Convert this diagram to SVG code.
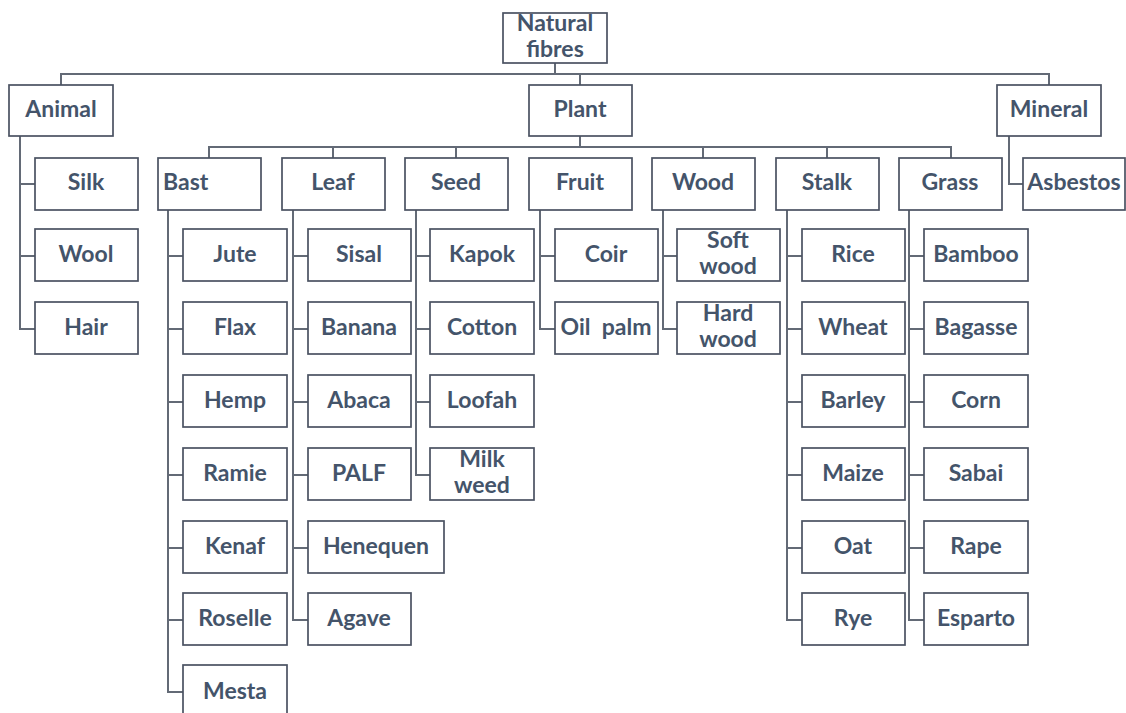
<svg xmlns="http://www.w3.org/2000/svg" width="1126" height="713" viewBox="0 0 1126 713">
<style>
.b{fill:#fff;stroke:#4a5262;stroke-width:1.7}
.t{font-family:Lato,"Open Sans",sans-serif;font-weight:bold;font-size:23px;fill:#44546a;text-anchor:middle}
.c{fill:none;stroke:#636a76;stroke-width:2}
</style>
<rect width="1126" height="713" fill="#fff"/>
<g id="connectors" class="c">
<path d="M555 63V74M61 85V74H1049V85M580 74V85"/>
<path d="M20 136V329H35M20 184H35M20 256H35"/>
<path d="M580 136V147M209 158V147H951V158M333 147V158M456 147V158M703 147V158M827 147V158"/>
<path d="M1009 136V184H1023"/>
<path d="M168 210V692H183M168 256H183M168 329H183M168 402H183M168 475H183M168 548H183M168 620H183"/>
<path d="M293 210V620H308M293 256H308M293 329H308M293 402H308M293 475H308M293 548H308"/>
<path d="M416 210V475H430M416 256H430M416 329H430M416 402H430"/>
<path d="M540 210V329H555M540 256H555"/>
<path d="M663 210V329H677M663 256H677"/>
<path d="M787 210V620H802M787 256H802M787 329H802M787 402H802M787 475H802M787 548H802"/>
<path d="M909 210V620H924M909 256H924M909 329H924M909 402H924M909 475H924M909 548H924"/>
</g>
<g id="n-root"><rect class="b" x="503" y="13" width="104" height="50"/><text class="t" x="555" y="31">Natural</text><text class="t" x="555" y="57">fibres</text></g>
<g id="n-animal"><rect class="b" x="9" y="85" width="104" height="51"/><text class="t" x="61" y="117">Animal</text></g>
<g id="n-plant"><rect class="b" x="529" y="85" width="103" height="51"/><text class="t" x="580" y="117">Plant</text></g>
<g id="n-mineral"><rect class="b" x="997" y="85" width="104" height="51"/><text class="t" x="1049" y="117">Mineral</text></g>
<g id="n-silk"><rect class="b" x="35" y="158" width="103" height="52"/><text class="t" x="86" y="190">Silk</text></g>
<g id="n-wool"><rect class="b" x="35" y="229" width="103" height="52"/><text class="t" x="86" y="262">Wool</text></g>
<g id="n-hair"><rect class="b" x="35" y="302" width="103" height="52"/><text class="t" x="86" y="335">Hair</text></g>
<g id="n-asbestos"><rect class="b" x="1023" y="158" width="102" height="52"/><text class="t" x="1074" y="190">Asbestos</text></g>
<g id="n-bast"><rect class="b" x="158" y="158" width="103" height="52"/><text class="t" x="163" y="190" style="text-anchor:start">Bast</text></g>
<g id="n-leaf"><rect class="b" x="282" y="158" width="103" height="52"/><text class="t" x="333" y="190">Leaf</text></g>
<g id="n-seed"><rect class="b" x="405" y="158" width="103" height="52"/><text class="t" x="456" y="190">Seed</text></g>
<g id="n-fruit"><rect class="b" x="529" y="158" width="103" height="52"/><text class="t" x="580" y="190">Fruit</text></g>
<g id="n-wood"><rect class="b" x="652" y="158" width="103" height="52"/><text class="t" x="703" y="190">Wood</text></g>
<g id="n-stalk"><rect class="b" x="776" y="158" width="103" height="52"/><text class="t" x="827" y="190">Stalk</text></g>
<g id="n-grass"><rect class="b" x="899" y="158" width="103" height="52"/><text class="t" x="950" y="190">Grass</text></g>
<g id="n-jute"><rect class="b" x="183" y="229" width="104" height="52"/><text class="t" x="235" y="262">Jute</text></g>
<g id="n-flax"><rect class="b" x="183" y="302" width="104" height="52"/><text class="t" x="235" y="335">Flax</text></g>
<g id="n-hemp"><rect class="b" x="183" y="375" width="104" height="52"/><text class="t" x="235" y="408">Hemp</text></g>
<g id="n-ramie"><rect class="b" x="183" y="448" width="104" height="52"/><text class="t" x="235" y="481">Ramie</text></g>
<g id="n-kenaf"><rect class="b" x="183" y="521" width="104" height="52"/><text class="t" x="235" y="554">Kenaf</text></g>
<g id="n-roselle"><rect class="b" x="183" y="593" width="104" height="52"/><text class="t" x="235" y="626">Roselle</text></g>
<g id="n-mesta"><rect class="b" x="183" y="665" width="104" height="60"/><text class="t" x="235" y="699">Mesta</text></g>
<g id="n-sisal"><rect class="b" x="308" y="229" width="103" height="52"/><text class="t" x="359" y="262">Sisal</text></g>
<g id="n-banana"><rect class="b" x="308" y="302" width="103" height="52"/><text class="t" x="359" y="335">Banana</text></g>
<g id="n-abaca"><rect class="b" x="308" y="375" width="103" height="52"/><text class="t" x="359" y="408">Abaca</text></g>
<g id="n-palf"><rect class="b" x="308" y="448" width="103" height="52"/><text class="t" x="359" y="481">PALF</text></g>
<g id="n-henequen"><rect class="b" x="308" y="521" width="136" height="52"/><text class="t" x="376" y="554">Henequen</text></g>
<g id="n-agave"><rect class="b" x="308" y="593" width="103" height="52"/><text class="t" x="359" y="626">Agave</text></g>
<g id="n-kapok"><rect class="b" x="430" y="229" width="104" height="52"/><text class="t" x="482" y="262">Kapok</text></g>
<g id="n-cotton"><rect class="b" x="430" y="302" width="104" height="52"/><text class="t" x="482" y="335">Cotton</text></g>
<g id="n-loofah"><rect class="b" x="430" y="375" width="104" height="52"/><text class="t" x="482" y="408">Loofah</text></g>
<g id="n-milkweed"><rect class="b" x="430" y="448" width="104" height="52"/><text class="t" x="482" y="467">Milk</text><text class="t" x="482" y="493">weed</text></g>
<g id="n-coir"><rect class="b" x="555" y="229" width="103" height="52"/><text class="t" x="606" y="262">Coir</text></g>
<g id="n-oilpalm"><rect class="b" x="555" y="302" width="103" height="52"/><text class="t" x="606" y="335" xml:space="preserve">Oil  palm</text></g>
<g id="n-softwood"><rect class="b" x="677" y="229" width="103" height="52"/><text class="t" x="728" y="248">Soft</text><text class="t" x="728" y="274">wood</text></g>
<g id="n-hardwood"><rect class="b" x="677" y="302" width="103" height="52"/><text class="t" x="728" y="321">Hard</text><text class="t" x="728" y="347">wood</text></g>
<g id="n-rice"><rect class="b" x="802" y="229" width="103" height="52"/><text class="t" x="853" y="262">Rice</text></g>
<g id="n-wheat"><rect class="b" x="802" y="302" width="103" height="52"/><text class="t" x="853" y="335">Wheat</text></g>
<g id="n-barley"><rect class="b" x="802" y="375" width="103" height="52"/><text class="t" x="853" y="408">Barley</text></g>
<g id="n-maize"><rect class="b" x="802" y="448" width="103" height="52"/><text class="t" x="853" y="481">Maize</text></g>
<g id="n-oat"><rect class="b" x="802" y="521" width="103" height="52"/><text class="t" x="853" y="554">Oat</text></g>
<g id="n-rye"><rect class="b" x="802" y="593" width="103" height="52"/><text class="t" x="853" y="626">Rye</text></g>
<g id="n-bamboo"><rect class="b" x="924" y="229" width="104" height="52"/><text class="t" x="976" y="262">Bamboo</text></g>
<g id="n-bagasse"><rect class="b" x="924" y="302" width="104" height="52"/><text class="t" x="976" y="335">Bagasse</text></g>
<g id="n-corn"><rect class="b" x="924" y="375" width="104" height="52"/><text class="t" x="976" y="408">Corn</text></g>
<g id="n-sabai"><rect class="b" x="924" y="448" width="104" height="52"/><text class="t" x="976" y="481">Sabai</text></g>
<g id="n-rape"><rect class="b" x="924" y="521" width="104" height="52"/><text class="t" x="976" y="554">Rape</text></g>
<g id="n-esparto"><rect class="b" x="924" y="593" width="104" height="52"/><text class="t" x="976" y="626">Esparto</text></g>
</svg>
